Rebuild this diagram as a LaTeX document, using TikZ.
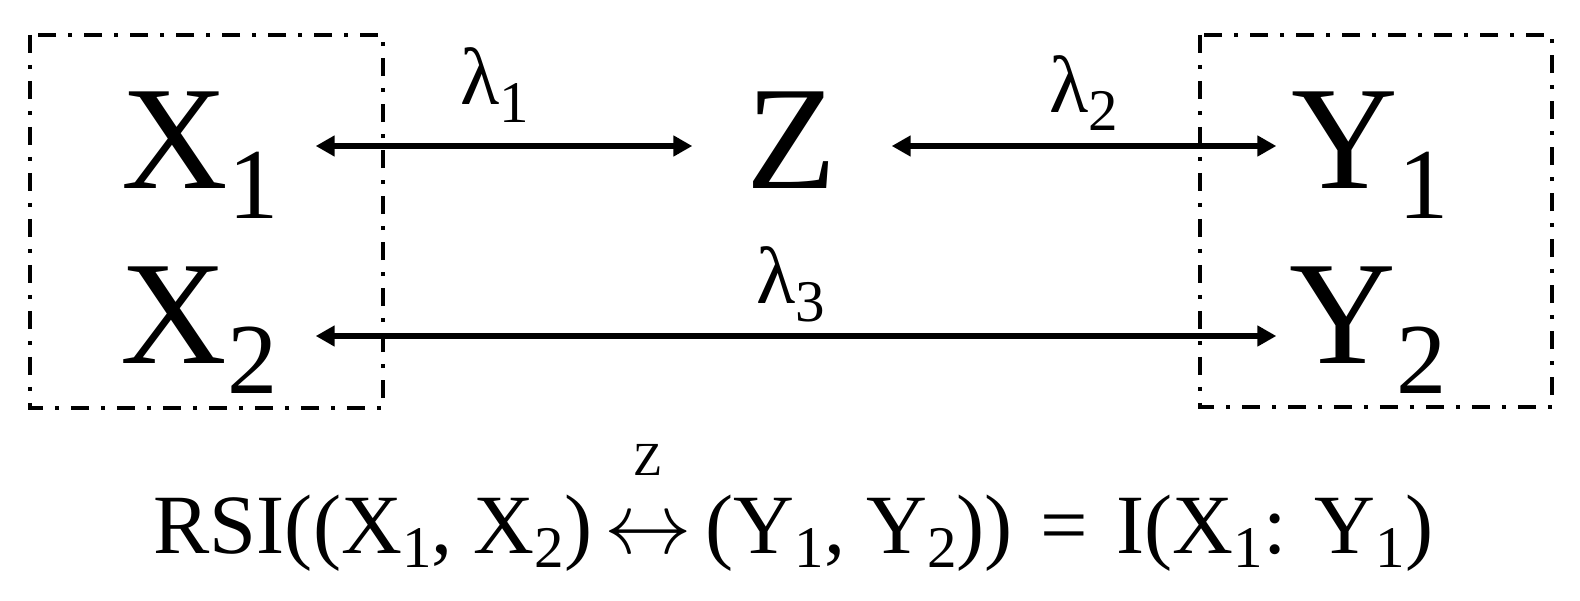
\documentclass[tikz,border=0pt]{standalone}
\usepackage{fontspec}
\setmainfont{Liberation Serif}
\usepackage{tikz}
\usetikzlibrary{positioning,arrows.meta,calc}

\newcommand{\bigsub}[2]{#1\raisebox{-0.30cm}{\fontsize{28.6}{30}\selectfont #2}}
\newcommand{\lamsub}[1]{λ\raisebox{-0.18cm}{\fontsize{16.8}{18}\selectfont #1}}
\newcommand{\eqsub}[2]{#1\raisebox{-0.14cm}{\fontsize{16.8}{18}\selectfont #2}}
\newcommand{\zarrow}{\hspace{0.12cm}{\ooalign{$\leftrightarrow$\cr\hidewidth\raisebox{0.78cm}{\fontsize{13.5}{14}\selectfont Z}\hidewidth\cr}}\hspace{0.14cm}}

\begin{document}
\begin{tikzpicture}[
    var/.style={inner sep=0pt, font=\fontsize{42}{48}\selectfont},
    rowone/.style={text height=1.0cm, text depth=0.16cm},
    rowtwo/.style={text height=0.8cm, text depth=0.26cm},
    twoway/.style={line width=1.85pt, {Triangle[length=0.19cm,width=0.2cm]}-{Triangle[length=0.19cm,width=0.2cm]}},
    lam/.style={anchor=base, inner sep=0pt, font=\fontsize{23}{26}\selectfont},
    group/.style={draw, line width=1.4pt, dash pattern=on 0.18cm off 0.12cm on 0.04cm off 0.12cm},
    formula/.style={anchor=base west, inner sep=0pt, font=\fontsize{24}{28}\selectfont}
]
    \useasboundingbox (0,0) rectangle (15.8,6);

    % Row 1 - X1, Z, Y1
    \node[var, rowone, minimum width=2.3cm] (X1) at (2.00, 4.54) {\bigsub{X}{1}};
    \node[var, rowone, minimum width=1.98cm] (Z) at (7.92, 4.54) {Z};
    \node[var, rowone, minimum width=1.86cm] (Y1) at (13.70, 4.54) {\bigsub{Y}{1}};

    % Row 2 - X2, Y2
    \node[var, rowtwo, minimum width=2.32cm] (X2) at (1.99, 2.64) {\bigsub{X}{2}};
    \node[var, rowtwo, minimum width=1.82cm] (Y2) at (13.68, 2.64) {\bigsub{Y}{2}};

    % Groups
    \draw[group] (0.30, 5.65) rectangle (3.83, 1.92);
    \draw[group] (12.00, 5.65) rectangle (15.52, 1.93);

    % Links
    \draw[twoway] (X1.east) -- node[lam, xshift=-0.09cm, yshift=0.41cm] {\lamsub{1}} (Z.west);
    \draw[twoway] (Z.east) -- node[lam, yshift=0.33cm] {\lamsub{2}} (Y1.west);
    \draw[twoway] (X2.east) -- node[lam, xshift=-0.05cm, yshift=0.33cm] {\lamsub{3}} (Y2.west);

    % Formula
    \node[formula] (rsi) at (1.53, 0.47) {RSI((\eqsub{X}{1}, \eqsub{X}{2})\zarrow(\eqsub{Y}{1}, \eqsub{Y}{2}))\hspace{0.28cm}=\hspace{0.28cm}I(\eqsub{X}{1}: \eqsub{Y}{1})};
\end{tikzpicture}
\end{document}
